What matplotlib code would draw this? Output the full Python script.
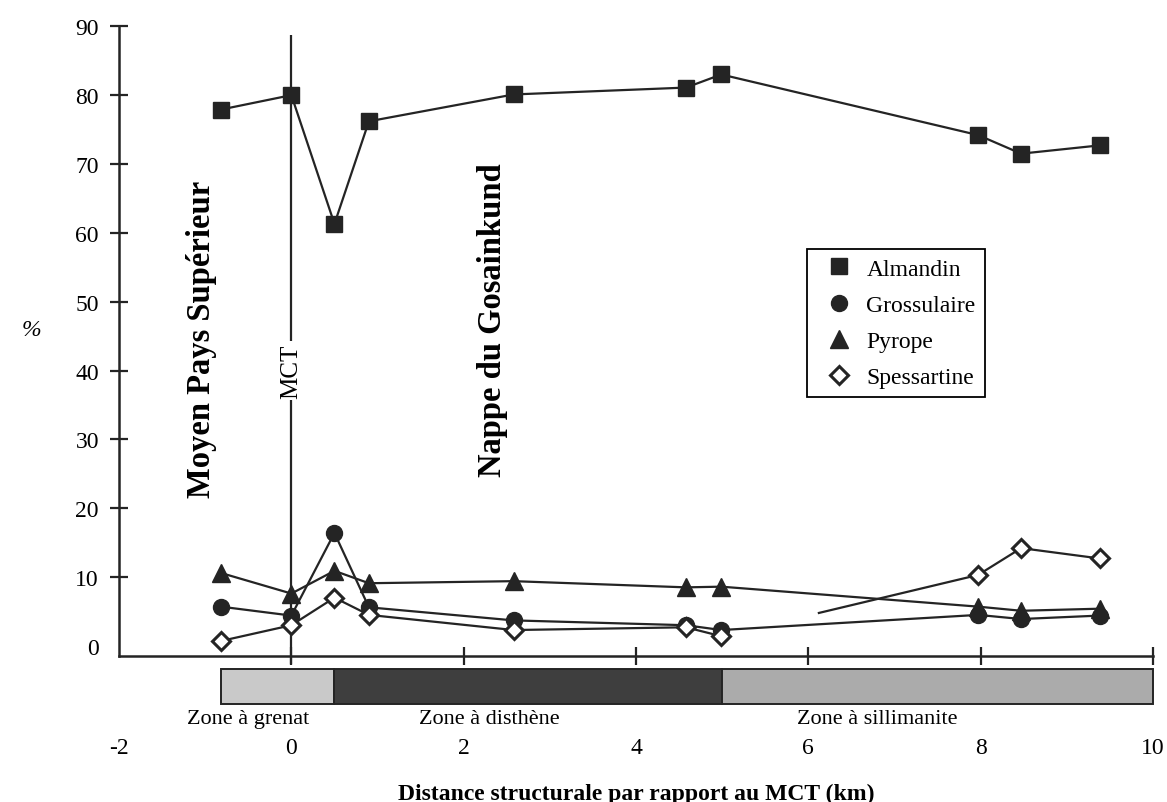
import matplotlib
matplotlib.use("Agg")
import matplotlib.pyplot as plt
from matplotlib.patches import Rectangle

plt.rcParams['font.family'] = ['Liberation Serif', 'DejaVu Serif']
plt.rcParams['axes.unicode_minus'] = False

# ---- data ----
x_km = [-0.82, 0.0, 0.5, 0.9, 2.58, 4.58, 4.99, 7.97, 8.47, 9.38]
almandin = [77.9, 80.0, 61.3, 76.2, 80.1, 81.1, 83.0, 74.2, 71.5, 72.7]
grossulaire = [5.7, 4.4, 16.4, 5.6, 3.7, 3.0, 2.3, 4.5, 3.9, 4.4]
pyrope = [10.6, 7.6, 10.9, 9.1, 9.4, 8.5, 8.6, 5.7, 5.1, 5.4]
spessartine = [0.7, 3.0, 7.0, 4.5, 2.3, 2.7, 1.4, 10.3, 14.2, 12.7]

series_names = ["Almandin", "Grossulaire", "Pyrope", "Spessartine"]

zone_names = ["Zone à grenat", "Zone à disthène", "Zone à sillimanite"]
zone_start = [-0.82, 0.5, 5.0]
zone_end = [0.5, 5.0, 10.0]
zone_label_x = [-0.5, 2.3, 6.8]

xticks = [-2, 0, 2, 4, 6, 8, 10]
yticks = [0, 10, 20, 30, 40, 50, 60, 70, 80, 90]

# ---- figure ----
ink = '#242424'
fig = plt.figure(figsize=(11.67, 8.03), dpi=100)
ax = fig.add_axes([0.102, 0.182, 0.886, 0.784])
ax.set_xlim(-2, 10)
ax.set_ylim(-1.45, 90)

lw = 1.6
h1, = ax.plot(x_km, almandin, color=ink, lw=lw, marker='s', ms=11, mfc=ink, mec=ink)
h2, = ax.plot(x_km, grossulaire, color=ink, lw=lw, marker='o', ms=11.5, mfc=ink, mec=ink)
h3, = ax.plot(x_km, pyrope, color=ink, lw=lw, marker='^', ms=13, mfc=ink, mec=ink)

# Spessartine: in the original the segment between the 5 km and 8 km samples
# is only drawn over its last ~62 %.
gap_frac = 0.38
xs0, xs1 = x_km[6], x_km[7]
ys0, ys1 = spessartine[6], spessartine[7]
x_gap = xs0 + gap_frac * (xs1 - xs0)
y_gap = ys0 + gap_frac * (ys1 - ys0)
ax.plot(x_km[:7], spessartine[:7], color=ink, lw=lw, zorder=2)
ax.plot([x_gap] + x_km[7:], [y_gap] + spessartine[7:], color=ink, lw=lw, zorder=2)
h4, = ax.plot(x_km, spessartine, color=ink, lw=0, marker='D', ms=9.5,
              mfc='white', mec=ink, mew=2.2, zorder=3)

# MCT line
ax.vlines(0, -2.6, 88.8, color=ink, lw=1.6, clip_on=False, zorder=1)
ax.text(0, 40, "MCT", rotation=90, ha='center', va='center', fontsize=18,
        bbox=dict(facecolor='white', edgecolor='none', pad=1.5), zorder=2)

ax.text(-1.04, 44.6, "Moyen Pays Supérieur", rotation=90, ha='center', va='center',
        fontsize=23.5, fontweight='bold')
ax.text(2.34, 47.5, "Nappe du Gosainkund", rotation=90, ha='center', va='center',
        fontsize=23.5, fontweight='bold')

# zone bar
zone_colors = ['#c9c9c9', '#3e3e3e', '#ababab']
for s, e, c in zip(zone_start, zone_end, zone_colors):
    ax.add_patch(Rectangle((s, -8.5), e - s, 5.1, facecolor=c, edgecolor=ink,
                           lw=1.4, clip_on=False))
for name, xl in zip(zone_names, zone_label_x):
    ax.text(xl, -10.5, name, ha='center', va='center', fontsize=16, clip_on=False)

# spines / ticks
for s in ['top', 'right']:
    ax.spines[s].set_visible(False)
for s in ['left', 'bottom']:
    ax.spines[s].set_linewidth(1.8)
    ax.spines[s].set_color(ink)
ax.set_xticks(xticks)
ax.set_yticks(yticks)
ax.tick_params(axis='both', direction='inout', length=13, width=1.6, color=ink,
               labelsize=17)
ax.tick_params(axis='x', pad=52)
ax.tick_params(axis='y', pad=8)
ax.xaxis.get_major_ticks()[0].tick1line.set_visible(False)
ax.yaxis.get_major_ticks()[0].tick1line.set_visible(False)

ax.set_xlabel("Distance structurale par rapport au MCT (km)", fontsize=17,
              fontweight='bold', labelpad=18)
fig.text(0.027, 0.588, "%", fontsize=17, ha='center', va='center', style='italic')

leg = ax.legend([h1, h2, h3, h4], series_names, loc='upper left',
                bbox_to_anchor=(0.665, 0.646), fontsize=17, frameon=True,
                fancybox=False, edgecolor='black', framealpha=1,
                handlelength=2.0, handletextpad=0.15, labelspacing=0.62,
                borderpad=0.38, borderaxespad=0)
for h in leg.legend_handles:
    h.set_linestyle('none')
leg.get_frame().set_linewidth(1.3)

fig.savefig("out.png", dpi=100)
